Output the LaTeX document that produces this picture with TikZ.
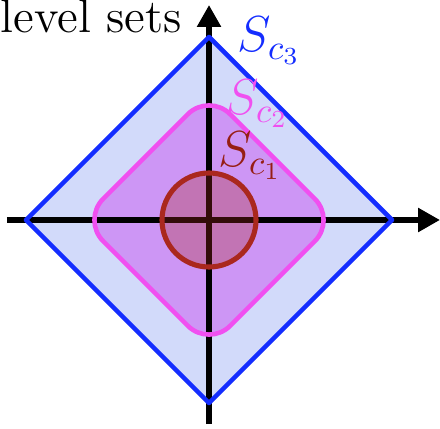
\documentclass[tikz,border=0pt]{standalone}
\usepackage{amsmath}
\definecolor{lsblue}{RGB}{20,45,255}
\definecolor{lsbluefill}{RGB}{210,218,250}
\definecolor{lspink}{RGB}{240,80,240}
\definecolor{lspinkfill}{RGB}{205,150,245}
\definecolor{lsred}{RGB}{170,40,30}
\definecolor{lsdark}{RGB}{150,30,20}
\usetikzlibrary{arrows.meta,positioning}

\tikzset{
  axis/.style={line width=1.6pt, -{Triangle[length=0.22cm, width=0.23cm]}},
  levelset/.style={line width=1.3pt, line join=round},
  setlabel/.style={anchor=base west, inner sep=0pt, font=\fontsize{14.5}{17}\selectfont}
}

\begin{document}
\begin{tikzpicture}
  \useasboundingbox (-2.09,-2.08) rectangle (2.31,2.20);

  %% fills
  \fill[lsbluefill] (1.83,0) -- (0,1.83) -- (-1.83,0) -- (0,-1.83) -- cycle;
  \fill[lspinkfill, rounded corners=0.3cm]
    (0.635,0.635) -- (0,1.27) -- (-1.27,0) -- (0,-1.27) -- (1.27,0) -- cycle;

  %% axes
  \draw[axis] (-2.02,0) -- (2.31,0);
  \draw[axis] (0,-2.04) -- (0,2.15);

  %% level sets
  \draw[levelset, lsblue] (1.83,0) -- (0,1.83) -- (-1.83,0) -- (0,-1.83) -- cycle;
  \draw[levelset, lspink, rounded corners=0.3cm]
    (0.635,0.635) -- (0,1.27) -- (-1.27,0) -- (0,-1.27) -- (1.27,0) -- cycle;
  \draw[levelset, line width=1.45pt, draw=lsred, fill=lsred, fill opacity=0.3] (0,0) circle (0.47);

  %% labels
  \node[anchor=base west, inner sep=0pt, font=\fontsize{13.5}{16}\selectfont] (title) at (-2.09,1.87) {level sets};
  \node[setlabel, text=lsblue] (s3) at (0.28,1.68) {$S_{c_3}$};
  \node[setlabel, text=lspink] (s2) at (0.16,1.05) {$S_{c_2}$};
  \node[setlabel, text=lsdark] (s1) at (0.09,0.53) {$S_{c_1}$};
\end{tikzpicture}
\end{document}
